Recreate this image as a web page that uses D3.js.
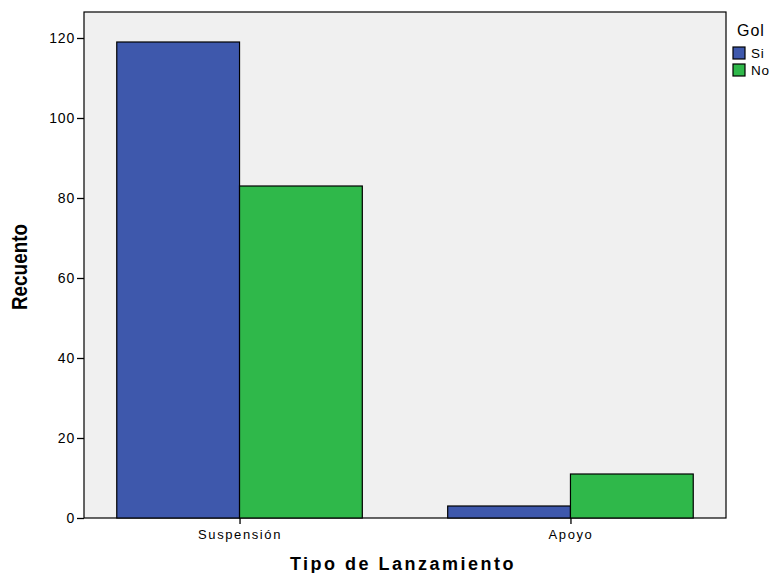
<!DOCTYPE html>
<html><head><meta charset="utf-8">
<script src="https://cdn.jsdelivr.net/npm/d3@7"></script>
<style>body{margin:0;background:#fff}svg{display:block}text{font-family:Arial,"Liberation Sans",sans-serif}</style>
</head><body>
<svg id="c" width="771" height="573"></svg>
<script>
const categories = ["Suspensión", "Apoyo"];
const seriesNames = ["Si", "No"];
const siValues = [119, 3];
const noValues = [83, 11];
const yTicks = [0, 20, 40, 60, 80, 100, 120];
const colors = ["#3e58ac", "#2fb84a"];

const svg = d3.select("#c");
const L = 84, R = 726, T = 12, B = 518;
const x = d3.scalePoint().domain(categories).range([L, R]).padding(0.47);
const y = d3.scaleLinear().domain([0, 126.5]).range([B, T]);
const bw = x.step() * 0.371;

svg.append("rect").attr("x", L).attr("y", T).attr("width", R - L).attr("height", B - T)
  .attr("fill", "#f0f0f0").attr("stroke", "#000").attr("stroke-width", 1.2);

const series = [siValues, noValues];
series.forEach((vals, si) => {
  svg.append("g").selectAll("rect").data(categories).join("rect")
    .attr("x", d => x(d) - bw + si * bw)
    .attr("y", (d, i) => y(vals[i]))
    .attr("width", bw)
    .attr("height", (d, i) => B - y(vals[i]))
    .attr("fill", colors[si]).attr("stroke", "#000").attr("stroke-width", 1.2);
});

const ya = svg.append("g").attr("transform", `translate(${L},0)`)
  .call(d3.axisLeft(y).tickValues(yTicks).tickSize(7).tickPadding(2).tickFormat(d3.format("d")));
ya.select(".domain").remove();
ya.selectAll("line").attr("stroke", "#000").attr("stroke-width", 1.3);
ya.selectAll("text").attr("font-size", 14).attr("letter-spacing", "0.8px").attr("fill", "#000");

const xa = svg.append("g").attr("transform", `translate(0,${B})`)
  .call(d3.axisBottom(x).tickSize(6).tickPadding(6));
xa.select(".domain").remove();
xa.selectAll("line").attr("stroke", "#000").attr("stroke-width", 1.3);
xa.selectAll("text").attr("font-size", 13).attr("fill", "#000").attr("letter-spacing", "1.6px");

svg.append("text").attr("x", 403).attr("y", 570).attr("text-anchor", "middle")
  .attr("font-size", 18).attr("font-weight", "bold").attr("letter-spacing", "2.5px").text("Tipo de Lanzamiento");
svg.append("text").attr("transform", "translate(27,267) rotate(-90) scale(0.86,1)").attr("text-anchor", "middle")
  .attr("font-size", 22).attr("font-weight", "bold").text("Recuento");

const lg = svg.append("g");
lg.append("text").attr("x", 737).attr("y", 36).attr("font-size", 16).attr("letter-spacing", "1px").text("Gol");
seriesNames.forEach((n, i) => {
  lg.append("rect").attr("x", 733).attr("y", 47 + i * 17).attr("width", 12).attr("height", 12)
    .attr("fill", colors[i]).attr("stroke", "#000").attr("stroke-width", 1.2);
  lg.append("text").attr("x", 751).attr("y", 58 + i * 17).attr("font-size", 13.5).attr("letter-spacing", "0.8px").text(n);
});
</script>
</body></html>
